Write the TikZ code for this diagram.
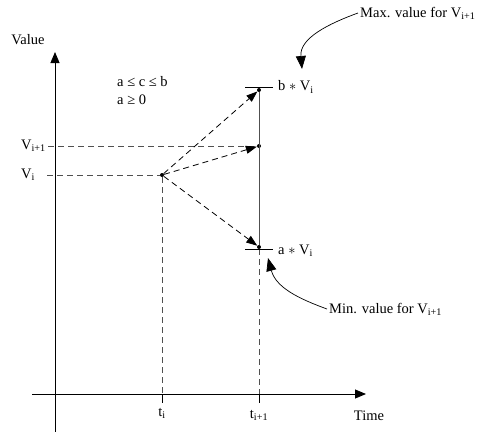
\documentclass[tikz,border=0pt]{standalone}
\usepackage{fontspec}
\setmainfont{Liberation Serif}
\usetikzlibrary{arrows.meta, positioning, calc}
\definecolor{guidegray}{RGB}{80,80,80}

\begin{document}
\begin{tikzpicture}[
    x=1pt, y=-1pt,
    font=\fontsize{14.5}{18}\selectfont,
    axis/.style={-{Triangle[length=11pt, width=9pt]}, line width=0.9pt},
    guide/.style={dash pattern=on 6pt off 4pt, guidegray, line width=0.8pt},
    jump/.style={guide, -{Triangle[length=11pt, width=8pt]}, black},
    dot/.style={circle, fill, inner sep=0pt, minimum size=4pt},
    bar/.style={line width=0.9pt},
    lbl/.style={inner sep=2pt},
    callout/.style={-{Triangle[length=13pt, width=10pt]}, line width=0.7pt},
]
    \useasboundingbox (0,0) rectangle (483,432);

    % axes
    \coordinate (ybot) at (55,432);
    \coordinate (ytop) at (55,52);
    \coordinate (xleft) at (32,394);
    \coordinate (xright) at (366,394);
    \draw[axis] (ybot) -- (ytop);
    \draw[axis] (xleft) -- (xright);
    \node[lbl] (value) at (28,40) {Value};
    \node[lbl] (time) at (369,416) {Time};

    % points
    \node[dot] (vi)    at (162,175) {};
    \node[dot] (vmax)  at (259,90)  {};
    \node[dot] (vnext) at (259,146) {};
    \node[dot] (vmin)  at (259,247) {};

    % guides to the axes
    \coordinate (vilft)   at (47,175);
    \coordinate (vnxlft)  at (48,146);
    \coordinate (tiaxis)  at (162,394);
    \coordinate (titick)  at (162,403);
    \coordinate (tnaxis)  at (259,394);
    \coordinate (tntick)  at (259,403);
    \draw[guide] (vilft) -- (vi);
    \draw[guide] (vnxlft) -- (vnext);
    \draw[guide] (vi) -- (tiaxis);
    \draw[guide] (vmin) -- (tnaxis);
    \draw[bar] (tiaxis) -- (titick);
    \draw[bar] (tnaxis) -- (tntick);
    \node[lbl, anchor=west] (vilbl) at (19,175) {V\textsubscript{i}};
    \node[lbl, anchor=west] (vnxlbl) at (19,146) {V\textsubscript{i+1}};
    \node[lbl, anchor=north] (tilbl) at ($(titick)+(0,3)$) {t\textsubscript{i}};
    \node[lbl, anchor=north] (tnlbl) at ($(tntick)+(0,5)$) {t\textsubscript{i+1}};

    % range of the next value
    \draw[guidegray, line width=0.9pt] (vmax) -- (vmin);
    \draw[bar] ($(vmax)+(-14,-3)$) -- ++(28,0);
    \draw[bar] ($(vmin)+(-14,2)$) -- ++(28,0);
    \node[lbl, anchor=west] (maxlbl) at (276,87)  {b $*$ V\textsubscript{i}};
    \node[lbl, anchor=west] (minlbl) at (276,251) {a $*$ V\textsubscript{i}};

    \draw[jump] (vi) -- (vmax);
    \draw[jump] (vi) -- (vnext);
    \draw[jump] (vi) -- (vmin);

    \node[lbl, anchor=north west, align=left] (rule) at (115,74) {a ≤ c ≤ b\\a ≥ 0};

    % call-outs
    \node[lbl, anchor=west] (maxnote) at (358,13) {Max. value for V\textsubscript{i+1}};
    \node[lbl, anchor=west] (minnote) at (327,309) {Min. value for V\textsubscript{i+1}};
    \coordinate (maxtip) at (302,69);
    \coordinate (mintip) at (268,258);
    \draw[callout] (maxnote.west) to[out=200, in=95] (maxtip);
    \draw[callout] (minnote.west) to[out=160, in=-75] (mintip);
\end{tikzpicture}
\end{document}
